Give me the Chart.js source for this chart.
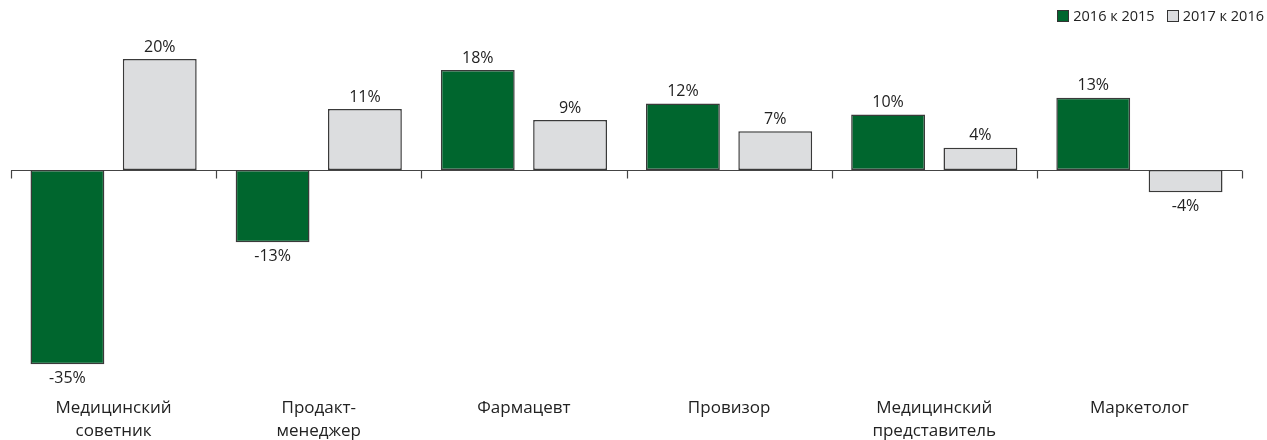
<!DOCTYPE html>
<html><head><meta charset="utf-8">
<script src="https://cdn.jsdelivr.net/npm/chart.js@4"></script>
<style>
html,body{margin:0;padding:0;background:#fff;}
#wrap{position:relative;width:1267px;height:440px;}
#legend{position:absolute;right:3px;top:6px;font-family:"Open Sans",sans-serif;font-size:14.5px;color:#222;display:flex;align-items:center;gap:12px;}
#legend span.item{display:flex;align-items:center;gap:4px;}
#legend i{display:inline-block;width:10px;height:10px;border:1px solid #333;}
</style></head>
<body>
<div id="wrap">
<canvas id="c" width="1267" height="440"></canvas>
<div id="legend"></div>
</div>
<script>
const categories = [["Медицинский","советник"],["Продакт-","менеджер"],["Фармацевт"],["Провизор"],["Медицинский","представитель"],["Маркетолог"]];
const seriesNames = ["2016 к 2015","2017 к 2016"];
const values2016 = [-35,-13,18,12,10,13];
const values2017 = [20,11,9,7,4,-4];
const colors = ["#00662e","#dcdddf"];

const leg = document.getElementById('legend');
seriesNames.forEach((n,i)=>{
  const s=document.createElement('span');s.className='item';
  s.innerHTML='<i style="background:'+colors[i]+'"></i>'+n;
  leg.appendChild(s);
});

const FONT = '"Open Sans", sans-serif';
const zeroAxis = {
  id:'zeroAxis',
  beforeDatasetsDraw(chart){
    const {ctx, chartArea, scales:{x,y}} = chart;
    const y0 = Math.round(y.getPixelForValue(0))+0.5;
    ctx.save();
    ctx.strokeStyle='#444';ctx.lineWidth=1.2;
    ctx.beginPath();
    ctx.moveTo(chartArea.left,y0);ctx.lineTo(chartArea.right,y0);
    const n = categories.length;
    const w = (chartArea.right-chartArea.left)/n;
    for(let i=0;i<=n;i++){
      const xx = Math.round(chartArea.left+i*w)+0.5;
      ctx.moveTo(xx,y0);ctx.lineTo(xx,y0+8);
    }
    ctx.stroke();
    ctx.restore();
  },
  afterDatasetsDraw(chart){
    const {ctx} = chart;
    ctx.save();
    ctx.font='16px '+FONT;ctx.fillStyle='#222';ctx.textAlign='center';
    chart.data.datasets.forEach((ds,di)=>{
      chart.getDatasetMeta(di).data.forEach((bar,i)=>{
        const v = ds.data[i];
        const txt = v+'%';
        if(v>=0){ctx.textBaseline='bottom';ctx.fillText(txt,bar.x,bar.y-4);}
        else {ctx.textBaseline='top';ctx.fillText(txt,bar.x,bar.y+6);}
      });
    });
    ctx.restore();
  }
};

new Chart(document.getElementById('c'),{
  type:'bar',
  data:{
    labels:categories,
    datasets:[
      {label:seriesNames[0],data:values2016,backgroundColor:colors[0],borderColor:'#3a3a3a',borderWidth:1.5,borderSkipped:false},
      {label:seriesNames[1],data:values2017,backgroundColor:colors[1],borderColor:'#3a3a3a',borderWidth:1.5,borderSkipped:false}
    ]
  },
  options:{
    responsive:false,animation:false,
    layout:{padding:{left:11,right:25,top:4,bottom:0}},
    datasets:{bar:{categoryPercentage:0.9,barPercentage:0.8}},
    plugins:{legend:{display:false},tooltip:{enabled:false}},
    scales:{
      x:{grid:{display:false,drawTicks:false},border:{display:false},
         afterFit(scale){scale.height=54;},
         ticks:{padding:10,color:'#222',font:{family:FONT,size:17,lineHeight:1.38},maxRotation:0,autoSkip:false}},
      y:{display:false,min:-38.9,max:29.9}
    }
  },
  plugins:[zeroAxis]
});
</script>
</body></html>
